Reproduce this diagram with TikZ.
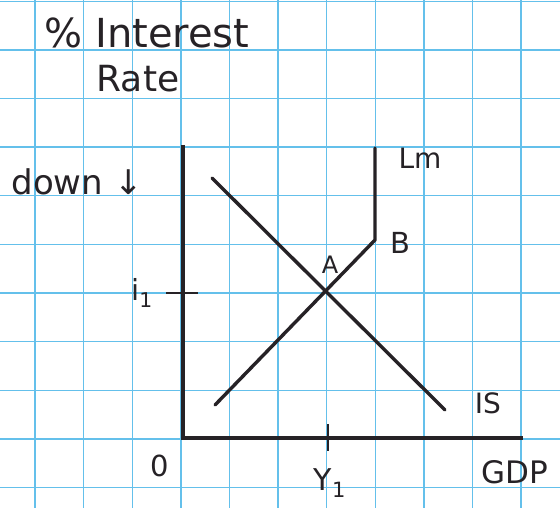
\documentclass[tikz,border=0pt]{standalone}
\usepackage{fontspec}
\setmainfont{DejaVu Sans}
\definecolor{gridblue}{RGB}{100,192,235}
\definecolor{ink}{RGB}{38,34,38}
\tikzset{
  gridline/.style={draw=gridblue, line width=1.4pt},
  axisline/.style={draw=ink, line width=4.5pt, line join=miter},
  curveline/.style={draw=ink, line width=3.4pt, line cap=round, line join=round},
  tickline/.style={draw=ink, line width=2.8pt},
  lbl/.style={text=ink, inner sep=0pt, font=\fontsize{27}{30}\selectfont}
}
\begin{document}
\begin{tikzpicture}[x=1pt,y=-1pt]
\fill[white] (0,0) rectangle (560,508);
\useasboundingbox (0,0) rectangle (560,508);
\foreach \i in {0,...,10} \draw[gridline] ({35+48.6*\i},0) -- ({35+48.6*\i},508);
\foreach \j in {0,...,10} \draw[gridline] (0,{1.4+48.6*\j}) -- (560,{1.4+48.6*\j});
% axes
\coordinate (yTop) at (183,145);
\coordinate (O) at (183,438);
\coordinate (xEnd) at (523,438);
\draw[axisline] (yTop) -- (O) -- (xEnd);
% ticks
\coordinate (ti1L) at (166,293);
\coordinate (ti1R) at (198,293);
\draw[tickline] (ti1L) -- (ti1R);
\coordinate (ty1T) at (328,424);
\coordinate (ty1B) at (328,451);
\draw[tickline] (ty1T) -- (ty1B);
% IS curve
\coordinate (isA) at (212,178);
\coordinate (isB) at (445,410);
\draw[curveline] (isA) -- (isB);
% LM curve
\coordinate (lmA) at (215,405);
\coordinate (Bpt) at (375,240);
\coordinate (lmTop) at (375,148);
\draw[curveline] (lmA) -- (Bpt) -- (lmTop);
% labels
\node[lbl, font=\fontsize{40}{44}\selectfont] (title1) at (147,33) {\% Interest};
\node[lbl, font=\fontsize{36}{40}\selectfont] (title2) at (138,79) {Rate};
\node[lbl, font=\fontsize{34}{38}\selectfont] (down) at (77,182) {down ↓};
\node[lbl, font=\fontsize{29}{32}\selectfont] (i1) at (142,293) {i\textsubscript{1}};
\node[lbl, font=\fontsize{24}{26}\selectfont] (Alab) at (330,265) {A};
\node[lbl, font=\fontsize{29}{32}\selectfont] (Blab) at (400,243) {B};
\node[lbl, font=\fontsize{28}{31}\selectfont] (lmlab) at (420,158) {Lm};
\node[lbl, font=\fontsize{28}{31}\selectfont] (islab) at (488,403) {IS};
\node[lbl, font=\fontsize{31}{34}\selectfont] (gdp) at (515,472) {GDP};
\node[lbl, font=\fontsize{29}{32}\selectfont] (zero) at (160,466) {0};
\node[lbl, font=\fontsize{30}{33}\selectfont] (y1) at (330,483) {Y\textsubscript{1}};
\end{tikzpicture}
\end{document}
